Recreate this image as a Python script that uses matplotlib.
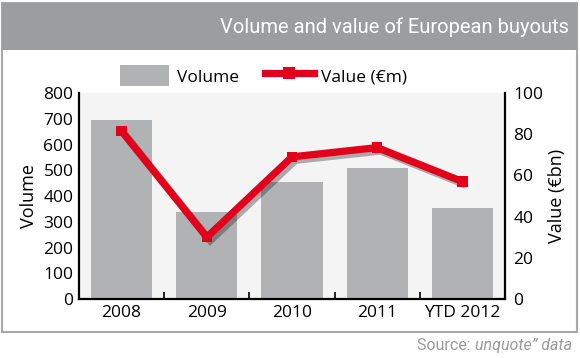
"""Volume and value of European buyouts - bar + line chart."""

import matplotlib

matplotlib.use("Agg")
import matplotlib.pyplot as plt
import matplotlib.patheffects as pe
from matplotlib.patches import Rectangle, Patch
from matplotlib.lines import Line2D
import numpy as np

categories = ["2008", "2009", "2010", "2011", "YTD 2012"]
volume = [694, 336, 455, 508, 355]
value_bn = [81.5, 30, 69, 73.5, 57]

BAR_GREY = "#b1b2b4"
HEAD_GREY = "#9c9d9f"
RED = "#e2001a"
FONT = "Open Sans"

plt.rcParams["font.family"] = [FONT, "DejaVu Sans"]

fig = plt.figure(figsize=(5.8, 3.58), dpi=100)

# frame + header band (behind the axes)
fig.add_artist(Rectangle((0.004, 0.073), 0.99, 0.92, transform=fig.transFigure,
                         facecolor="white", edgecolor="#a8a8a8", linewidth=1.5, zorder=-10))
fig.add_artist(Rectangle((0.004, 0.86), 0.99, 0.133, transform=fig.transFigure,
                         facecolor=HEAD_GREY, edgecolor="none", zorder=-9))
fig.text(0.98, 0.925, "Volume and value of European buyouts", ha="right", va="center",
         color="white", fontsize=14.5, family=["Roboto", "DejaVu Sans"])

ax = fig.add_axes([0.1362, 0.1648, 0.7345, 0.5754])
ax.set_facecolor("#f4f4f4")
x = np.arange(len(categories))
ax.bar(x, volume, width=0.72, color=BAR_GREY, zorder=2)
ax.set_xlim(-0.5, len(categories) - 0.5)
ax.set_ylim(0, 800)
ax.set_yticks(range(0, 801, 100))
ax.set_xticks(x)
ax.set_xticklabels(categories)
ax.set_xticks(x[:-1] + 0.5, minor=True)
ax.tick_params(axis="x", which="major", length=0, labelsize=12.5, pad=4)
ax.tick_params(axis="x", which="minor", direction="in", length=5, width=1.2)
ax.tick_params(axis="y", length=0, labelsize=12.5, pad=4)
ax.set_ylabel("Volume", fontsize=13, labelpad=4)
for side in ("top", "right"):
    ax.spines[side].set_visible(False)
for side in ("left", "bottom"):
    ax.spines[side].set_linewidth(1.6)

ax2 = ax.twinx()
ax2.plot(x, value_bn, color=RED, linewidth=5.2, marker="s", markersize=7.5,
         markeredgewidth=0, solid_capstyle="butt", solid_joinstyle="miter", zorder=3,
         path_effects=[pe.SimpleLineShadow(offset=(2.5, -2.5), alpha=0.3, shadow_color="black"),
                       pe.Normal()])
ax2.set_ylim(0, 100)
ax2.set_yticks(range(0, 101, 20))
ax2.tick_params(axis="y", length=0, labelsize=12.5, pad=6)
ax2.set_ylabel("Value (€bn)", fontsize=13, labelpad=3)
for side in ("top", "left", "bottom"):
    ax2.spines[side].set_visible(False)
ax2.spines["right"].set_linewidth(1.6)

handles = [Patch(facecolor=BAR_GREY, edgecolor="none"),
           Line2D([], [], color=RED, linewidth=5.2, marker="s", markersize=8,
                  markeredgewidth=0)]
fig.legend(handles, ["Volume", "Value (€m)"], loc="center", ncol=2,
           bbox_to_anchor=(0.455, 0.788), frameon=False, fontsize=12.5,
           handlelength=2.8, handleheight=1.5, columnspacing=1.5, handletextpad=0.45)

src = fig.text(0.986, 0.034, "unquote” data", ha="right", va="center", color="#9a9a9a",
               fontsize=11.5, family=["Roboto", "DejaVu Sans"], style="italic")
fig.canvas.draw()
bb = src.get_window_extent()
fig.text(bb.x0 / fig.bbox.width, 0.034, "Source: ", ha="right", va="center",
         color="#9a9a9a", fontsize=11.5, family=["Roboto", "DejaVu Sans"])

fig.savefig("out.png", dpi=100)
plt.close(fig)
